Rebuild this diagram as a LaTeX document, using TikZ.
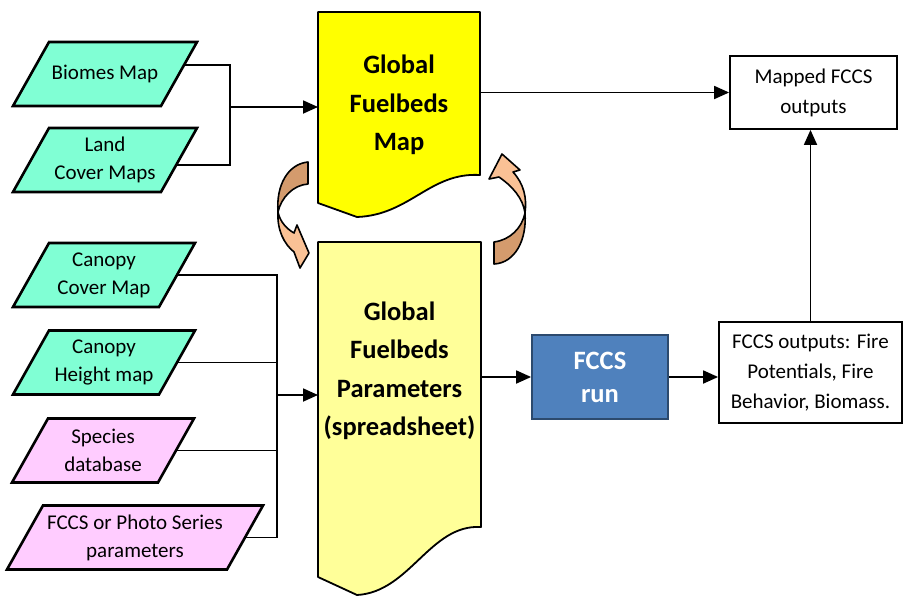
\documentclass[tikz,border=0pt]{standalone}
\usepackage{fontspec}
\setmainfont{Carlito}
\usetikzlibrary{arrows.meta,calc,backgrounds}
\definecolor{mapgreen}{HTML}{80FFD4}
\definecolor{dbpink}{HTML}{FFCCFF}
\definecolor{mapyellow}{HTML}{FFFF00}
\definecolor{paryellow}{HTML}{FFFF99}
\definecolor{runblue}{HTML}{4F81BD}
\definecolor{runedge}{HTML}{2C4A6E}
\definecolor{swirldark}{HTML}{D49B6D}
\definecolor{swirllight}{HTML}{FAC195}
\tikzset{
  inbox/.style={inner sep=0pt, outer sep=0pt, minimum height=64pt, align=center,
    font=\fontsize{21}{28}\selectfont},
  inshape/.style={draw=black, line width=2.6pt, line join=miter},
  outbox/.style={draw=black, line width=1.8pt, align=center, inner sep=0pt,
    font=\fontsize{21}{30}\selectfont},
  docarea/.style={inner sep=0pt, outer sep=0pt},
  doctext/.style={align=center, font=\bfseries\fontsize{26.5}{38.5}\selectfont},
  docline/.style={draw=black, line width=1.8pt, line join=round},
  swirl/.style={draw=black, line width=1.6pt, line join=round},
  link/.style={draw=black, line width=1.8pt},
  arrow/.style={link, -{Triangle[length=15pt,width=13pt]}}
}
\begin{document}
\begin{tikzpicture}[x=1pt, y=-1pt]
      \useasboundingbox (0,0) rectangle (904,597);
      \draw[docline, fill=mapyellow] (318,203) -- (318,12) -- (480,12) -- (480,175)
        .. controls (430,172) and (410,215) .. (357,217) -- cycle;
      \draw[docline, fill=paryellow] (318,577) -- (318,242) -- (481,242) -- (481,527)
        .. controls (430,524) and (410,592) .. (357,595) -- cycle;
      \node[docarea, minimum width=162pt, minimum height=191pt] (gmap) at (399,107.5) {};
      \node[doctext] (gmaptxt) at (399,105) {Global\\Fuelbeds\\Map};
      \node[docarea, minimum width=163pt, minimum height=335pt] (gpar) at (399.5,409.5) {};
      \node[doctext] (gpartxt) at (399.5,371) {Global\\Fuelbeds\\Parameters\\(spreadsheet)};

      \node[inbox, minimum width=148pt] (bio) at (105,74) {Biomes Map};
      \node[inbox, minimum width=148pt] (land) at (105,160) {Land\\Cover Maps};
      \node[inbox, minimum width=146pt] (ccov) at (104,275) {Canopy\\Cover Map};
      \node[inbox, minimum width=146pt] (chgt) at (104,362.5) {Canopy\\Height map};
      \node[inbox, minimum width=146pt] (spec) at (103,450.5) {Species\\database};
      \node[inbox, minimum width=220pt] (fccs) at (135,537.5) {FCCS or Photo Series\\parameters};
      \begin{scope}[on background layer]
        \foreach \inp/\shade in {bio/mapgreen, land/mapgreen, ccov/mapgreen, chgt/mapgreen, spec/dbpink, fccs/dbpink}
          \draw[inshape, fill=\shade] ($(\inp.south west)+(-18,0)$) -- ($(\inp.north west)+(18,0)$)
            -- ($(\inp.north east)+(18,0)$) -- ($(\inp.south east)+(-18,0)$) -- cycle;
      \end{scope}

      \node[outbox, minimum width=167pt, minimum height=73pt] (mapped) at (813.5,92.5) {Mapped FCCS\\outputs};
      \node[outbox, fill=runblue, draw=runedge, text=white, minimum width=136pt, minimum height=84pt,
        font=\bfseries\fontsize{26.5}{33}\selectfont] (run) at (600,377) {FCCS\\run};
      \node[outbox, minimum width=183pt, minimum height=101pt] (outs) at (810.5,372.5) {FCCS outputs: Fire\\Potentials, Fire\\Behavior, Biomass.};

      \coordinate (upjoin) at (230,107);
      \coordinate (lowjoin) at (277,395);
      \draw[link] ($($(bio.north east)+(18,0)$)!0.36!($(bio.south east)+(-18,0)$)$) -| (upjoin);
      \draw[link] ($($(land.north east)+(18,0)$)!0.58!($(land.south east)+(-18,0)$)$) -| (upjoin);
      \draw[arrow] (upjoin) -- (upjoin -| gmap.west);
      \draw[link] (ccov.east) -| (lowjoin);
      \draw[link] (chgt.east) -| (lowjoin);
      \draw[link] (spec.east) -| (lowjoin);
      \draw[link] (fccs.east) -| (lowjoin);
      \draw[arrow] (lowjoin) -- (lowjoin -| gpar.west);
      \draw[arrow] (gmap.east |- mapped.west) -- (mapped.west);
      \draw[arrow] (gpar.east |- run.west) -- (run.west);
      \draw[arrow] (run.east) -- (run.east -| outs.west);
      \draw[arrow] (outs.north) -- (outs.north |- mapped.south);

      \draw[swirl, fill=swirldark] (308,162) .. controls (288,164) and (276,185) .. (278,212)
        .. controls (281,198) and (293,185) .. (308,184) -- cycle;
      \draw[swirl, fill=swirllight] (278,212) .. controls (280,222) and (287,229) .. (294,233)
        -- (297,225) -- (309,253) -- (300,268) -- (294,252)
        .. controls (284,244) and (277,230) .. (278,212) -- cycle;
      \draw[swirl, fill=swirldark] (525,213) .. controls (527,240) and (515,263) .. (494,264)
        -- (494,242) .. controls (510,240) and (522,228) .. (525,213) -- cycle;
      \draw[swirl, fill=swirllight] (525,213) .. controls (523,198) and (512,186) .. (499,177)
        -- (489,179) -- (502,154) -- (520,170) -- (513,172)
        .. controls (524,184) and (527,198) .. (525,213) -- cycle;
    \end{tikzpicture}
\end{document}
